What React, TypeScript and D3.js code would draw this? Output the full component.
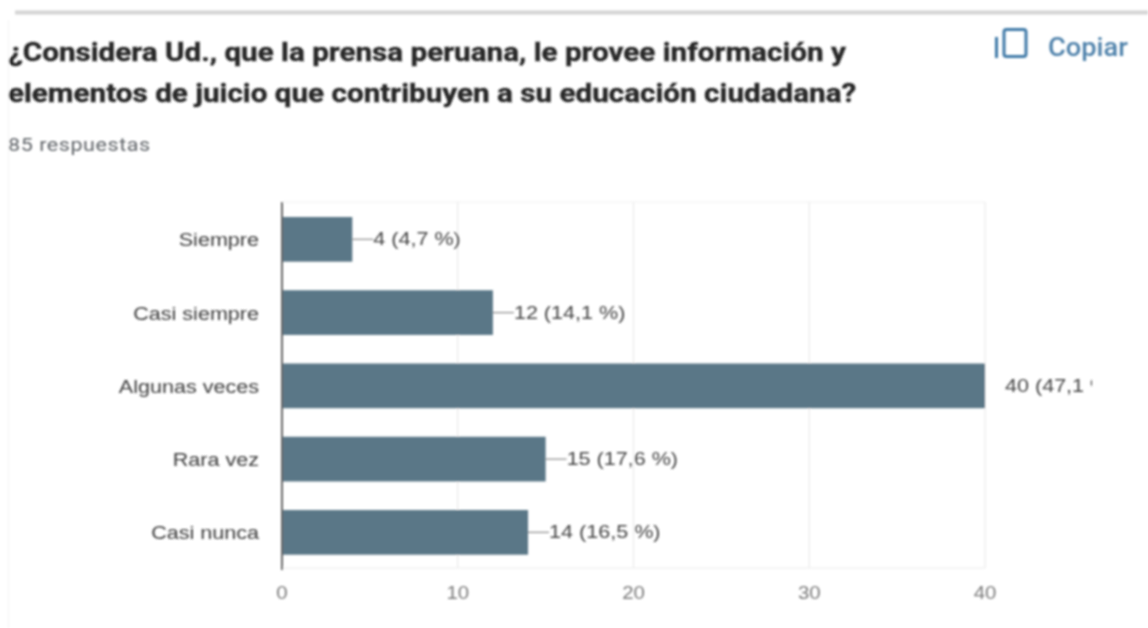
import React from "react";
import * as d3 from "d3";

const categories = ["Siempre", "Casi siempre", "Algunas veces", "Rara vez", "Casi nunca"];
const counts = [4, 12, 40, 15, 14];
const valueLabels = ["4 (4,7 %)", "12 (14,1 %)", "40 (47,1 %)", "15 (17,6 %)", "14 (16,5 %)"];
const ticks = [0, 10, 20, 30, 40];
const titleLines = [
  "¿Considera Ud., que la prensa peruana, le provee información y",
  "elementos de juicio que contribuyen a su educación ciudadana?",
];
const subtitle = "85 respuestas";
const copyLabel = "Copiar";

const FONT = "Roboto, 'Liberation Sans', Arial, sans-serif";
const LABEL_FONT = "'Liberation Sans', Arial, sans-serif";

export default function App() {
  const x = d3.scaleLinear().domain([0, 40]).range([282, 985]);
  const y = d3.scaleBand().domain(categories).range([202.7, 569]).paddingInner(0.39).paddingOuter(0.195);
  const leader = 21;
  const wide = 1.135;

  return (
    <svg
      width={1148}
      height={628}
      viewBox="0 0 1148 628"
      style={{ position: "absolute", left: 0, top: 0, background: "#fff" }}
    >
      <defs>
        <filter id="soft" x="-2%" y="-2%" width="104%" height="104%">
          <feGaussianBlur stdDeviation="0.8" />
        </filter>
        <clipPath id="labelClip">
          <rect x={0} y={0} width={1092} height={628} />
        </clipPath>
      </defs>
      <g filter="url(#soft)">
        <rect x={15} y={10.5} width={1133} height={4} fill="#d4d4d4" />
        <line x1={8.5} y1={20} x2={8.5} y2={628} stroke="#f3f3f3" />

        {titleLines.map((t, i) => (
          <text
            key={t}
            transform={`translate(8,${[61, 102][i]}) scale(1.141,1)`}
            fontFamily={FONT}
            fontSize={26}
            fontWeight={700}
            fill="#262626"
            stroke="#262626"
            strokeWidth={0.35}
          >
            {t}
          </text>
        ))}
        <text
          transform="translate(8,151) scale(1.132,1)"
          fontFamily={FONT}
          fontSize={19}
          fill="#5f6368"
          letterSpacing={0.5}
        >
          {subtitle}
        </text>

        <g fill="none" stroke="#3f7aa8" strokeWidth={3}>
          <rect x={1004} y={29.5} width={22} height={27} rx={2.5} />
          <line x1={996.5} y1={37} x2={996.5} y2={58} />
        </g>
        <text
          transform="translate(1048,56) scale(1.09,1)"
          fontFamily={FONT}
          fontSize={25}
          fontWeight={500}
          fill="#4f82ab"
        >
          {copyLabel}
        </text>

        {ticks.map((t) => (
          <line key={t} x1={x(t)} x2={x(t)} y1={202} y2={568} stroke="#e9e9e9" strokeWidth={1.2} />
        ))}
        <line x1={282} x2={985} y1={202} y2={202} stroke="#f0f0f0" />
        <line x1={282} x2={985} y1={568} y2={568} stroke="#ececec" />

        {categories.map((c, i) => {
          const top = y(c)!;
          const mid = top + y.bandwidth() / 2;
          const end = x(counts[i]);
          const isMax = counts[i] === 40;
          return (
            <g key={c}>
              <rect x={x(0)} y={top} width={end - x(0)} height={y.bandwidth()} fill="#5a7787" />
              <text
                transform={`translate(259,${mid + 7}) scale(${wide},1)`}
                textAnchor="end"
                fontFamily={LABEL_FONT}
                fontSize={19}
                fill="#3c3c3c"
              >
                {c}
              </text>
              {!isMax && (
                <line x1={end} x2={end + leader} y1={mid} y2={mid} stroke="#8b8b8b" strokeWidth={1.2} />
              )}
              <g clipPath="url(#labelClip)">
                <text
                  transform={`translate(${isMax ? end + 20 : end + leader},${mid + 6}) scale(${wide},1)`}
                  fontFamily={LABEL_FONT}
                  fontSize={19}
                  fill="#444"
                >
                  {valueLabels[i]}
                </text>
              </g>
            </g>
          );
        })}

        <line x1={282} x2={282} y1={202} y2={570} stroke="#666" strokeWidth={2} />

        {ticks.map((t) => (
          <text
            key={t}
            transform={`translate(${x(t)},599) scale(${wide},1)`}
            textAnchor="middle"
            fontFamily={LABEL_FONT}
            fontSize={18}
            fill="#7a7a7a"
          >
            {t}
          </text>
        ))}
      </g>
    </svg>
  );
}
